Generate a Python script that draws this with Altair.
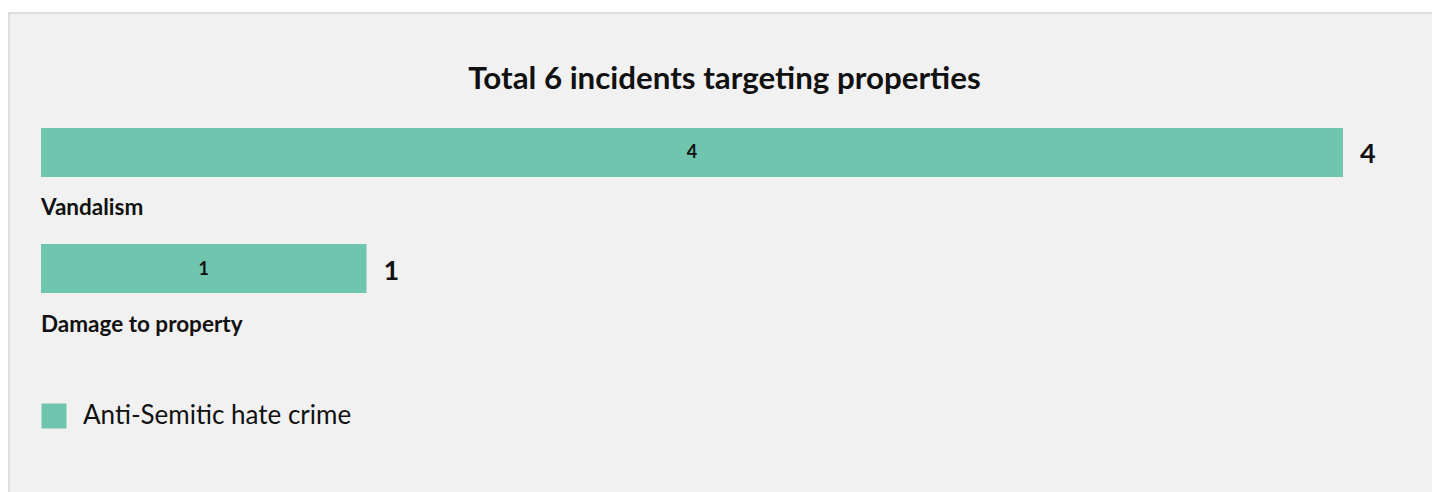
import altair as alt
import pandas as pd

# ---- data ----
categories = ["Vandalism", "Damage to property"]
values = [4, 1]
series_name = "Anti-Semitic hate crime"
title_text = "Total 6 incidents targeting properties"

FONT = "Lato"
BAR_COLOR = "#6fc5ad"

df = pd.DataFrame({
    "category": categories,
    "value": values,
    "series": [series_name] * len(categories),
})

W, H = 1423, 479

x_scale = alt.Scale(domain=[0, 4], range=[32, 1334])
y_enc = alt.Y(
    "category:N",
    sort=categories,
    axis=None,
    scale=alt.Scale(range=[115, 280], paddingInner=0.5776, paddingOuter=0),
)

base = alt.Chart(df)

bars = base.mark_bar().encode(
    x=alt.X("value:Q", scale=x_scale, axis=None),
    y=y_enc,
    color=alt.Color(
        "series:N",
        scale=alt.Scale(range=[BAR_COLOR]),
        legend=alt.Legend(
            title=None,
            orient="none",
            legendX=32,
            legendY=390,
            symbolType="square",
            symbolSize=625,
            symbolStrokeWidth=0,
            symbolOpacity=1,
            labelFontSize=26,
            labelFont=FONT,
            labelColor="#111111",
            labelOffset=16,
            labelLimit=1000,
            padding=0,
        ),
    ),
)

inner = base.transform_calculate(half="datum.value / 2").mark_text(
    font=FONT, fontWeight="bold", color="#111111",
    align="center", baseline="middle", dy=1,
).encode(
    x=alt.X("half:Q", scale=x_scale),
    y=y_enc,
    text="value:Q",
    size=alt.value(18),
)

outer = base.mark_text(
    font=FONT, fontSize=27, fontWeight="bold", color="#111111",
    align="left", baseline="middle", dx=17, dy=3,
).encode(x=alt.X("value:Q", scale=x_scale), y=y_enc, text="value:Q")

cats = base.mark_text(
    font=FONT, fontSize=22.5, fontWeight="bold", color="#111111",
    align="left", baseline="middle", dy=56,
).encode(x=alt.datum(0, scale=x_scale), y=y_enc, text="category:N")

border_top = base.mark_rule(color="#dcdcdc", strokeWidth=2).encode(
    x=alt.value(-1), x2=alt.value(W), y=alt.value(0)
)
border_left = base.mark_rule(color="#dcdcdc", strokeWidth=2).encode(
    x=alt.value(0), y=alt.value(-1), y2=alt.value(H)
)

chart = alt.layer(bars, inner, outer, cats, border_top, border_left).properties(
    width=W,
    height=H,
    title=alt.TitleParams(
        title_text,
        font=FONT, fontSize=31.3, fontWeight="bold", color="#111111",
        anchor="middle", orient="top", offset=-84, dx=4,
    ),
    autosize=alt.AutoSizeParams(type="none"),
    padding={"left": 9, "top": 13, "right": 0, "bottom": 0},
    background="#ffffff",
).configure_view(fill="#f1f1f1", stroke=None)

chart.save("out.html", embed_options={"renderer": "svg", "actions": False})
